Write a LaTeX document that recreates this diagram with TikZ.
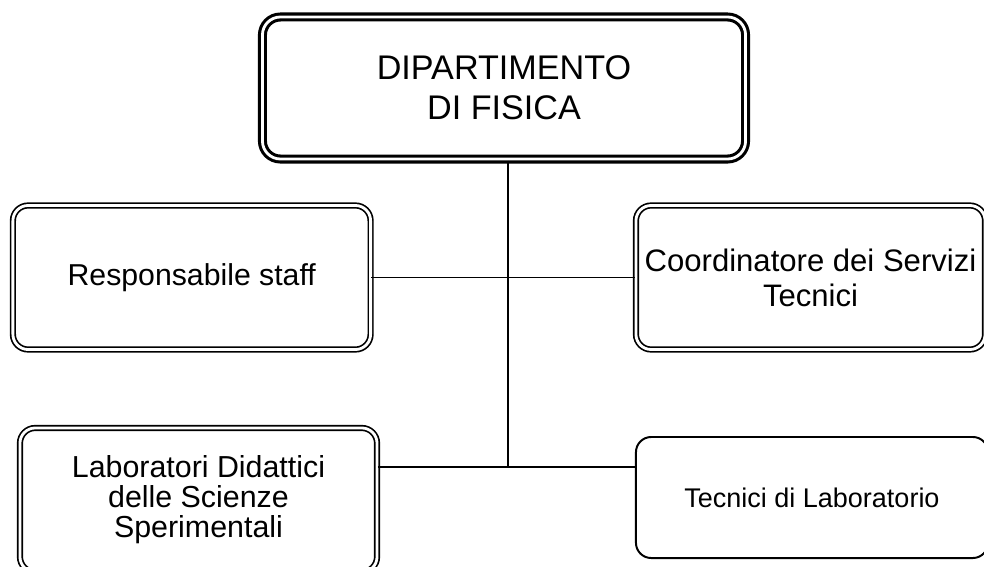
\documentclass[tikz,border=0pt]{standalone}
\usepackage{fontspec}
\setmainfont{Liberation Sans}
\begin{document}
\begin{tikzpicture}[x=0.025cm, y=-0.025cm, line width=1.3pt,
  head node/.style={rectangle, draw, double, line width=2.2pt, double distance=2pt, rounded corners=0.45cm, minimum width=12.075cm, minimum height=3.55cm, align=center, font=\fontsize{24.3}{28.5}\selectfont},
  box node/.style={rectangle, draw, double, line width=1.2pt, double distance=2pt, rounded corners=0.38cm, minimum width=8.94cm, minimum height=3.6cm, align=center, font=\fontsize{21.5}{23.5}\selectfont},
  plain node/.style={rectangle, draw, line width=1.4pt, rounded corners=0.38cm, minimum width=8.8cm, minimum height=3.025cm, align=center, font=\fontsize{19.2}{22}\selectfont}]
\useasboundingbox (0,0) rectangle (984,566);
\clip (0,0) rectangle (984,566);
\node[head node] (dip) at (504,88) {DIPARTIMENTO\\DI FISICA};
\node[box node] (staff) at (191.75,277.5) {Responsabile staff};
\node[box node, minimum width=8.725cm, font=\fontsize{22.1}{25}\selectfont] (coord) at (810.5,277.5) {Coordinatore dei Servizi\\Tecnici};
\node[box node, minimum width=8.925cm, font=\fontsize{21.6}{21.3}\selectfont] (lab) at (198.5,500) {Laboratori Didattici\\delle Scienze\\Sperimentali};
\node[plain node] (tec) at (812,497.5) {Tecnici di Laboratorio};
\coordinate (j) at (508,467);
\draw (dip.south -| j) -- (j);
\draw (staff.east) -- (coord.west);
\draw (lab.east |- j) -- (tec.west |- j);
\end{tikzpicture}
\end{document}
